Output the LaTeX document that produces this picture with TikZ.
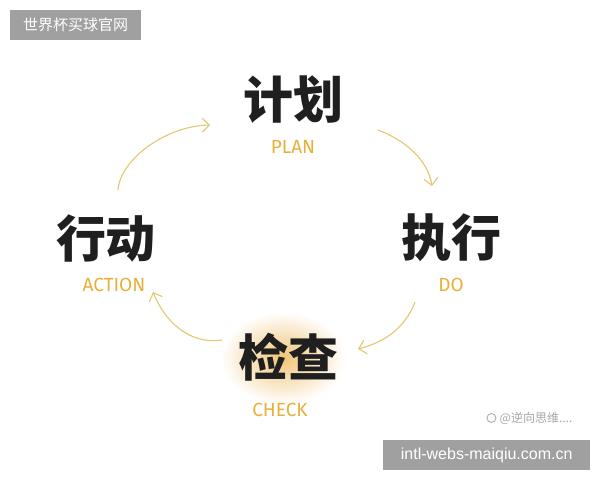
\documentclass[tikz,border=0pt]{standalone}
\usepackage{fontspec}
\usepackage{tikz}
\usetikzlibrary{arrows.meta, positioning, shapes.geometric}
\newfontfamily\cjk{Noto Sans CJK SC}
\newfontfamily\urlfont{Liberation Sans}
\newfontfamily\capsfont{Fira Sans}
\definecolor{markgray}{RGB}{160,160,160}
\definecolor{pengold}{RGB}{232,176,58}
\definecolor{arrowgold}{RGB}{226,200,110}
\definecolor{glow}{RGB}{240,196,120}

\begin{document}
\begin{tikzpicture}[
    x=1pt, y=-1pt,
    node distance=14pt,
    stage/.style={inner sep=0pt, font=\cjk\bfseries\fontsize{50}{50}\selectfont, text=black!88},
    tag/.style={inner sep=0pt, font=\capsfont\fontsize{19}{19}\selectfont, text=pengold},
    flow/.style={draw=arrowgold, line width=1.1pt, -{Straight Barb[length=7pt, width=14pt]}},
    banner/.style={fill=markgray, text=white, inner sep=0pt, anchor=north west}
]
    \useasboundingbox[fill=white] (0,0) rectangle (600,480);

    % watermark boxes
    \node[banner, minimum width=131pt, minimum height=30pt, font=\cjk\fontsize{15}{15}\selectfont] (site) at (10,10) {世界杯买球官网};
    \node[banner, minimum width=207pt, minimum height=30pt, font=\urlfont\fontsize{16}{16}\selectfont] (url) at (383,440) {intl-webs-maiqiu.com.cn};
    \node[inner sep=0pt, text=black!35, font=\cjk\fontsize{12}{12}\selectfont] (author) at (536,418) {@逆向思维....};
    \node[circle, draw=black!30, line width=1pt, minimum size=9pt, inner sep=0pt, left=3pt of author] (logo) {};

    % glow behind check
    \shade[inner color=glow, outer color=white] (283,358) ellipse [x radius=62, y radius=46];

    % stages
    \node[stage] (plan) at (293,100) {计划};
    \node[tag, below=16pt of plan] (planlbl) {PLAN};
    \node[stage] (do) at (451,238) {执行};
    \node[tag, below=16pt of do] (dolbl) {DO};
    \node[stage] (check) at (288,357) {检查};
    \node[tag, below=22pt of check, xshift=-8pt] (checklbl) {CHECK};
    \node[stage] (act) at (106,238) {行动};
    \node[tag, below=16pt of act, xshift=8pt] (actlbl) {ACTION};

    % cycle arrows
    \coordinate (a1s) at (118,190);
    \coordinate (a1e) at (210,125);
    \coordinate (a2s) at (378,130);
    \coordinate (a2e) at (432,186);
    \coordinate (a3s) at (415,302);
    \coordinate (a3e) at (358,349);
    \coordinate (a4s) at (222,340);
    \coordinate (a4e) at (153,292);
    \draw[flow] (a1s) .. controls (120,160) and (165,126) .. (a1e);
    \draw[flow] (a2s) .. controls (405,140) and (428,160) .. (a2e);
    \draw[flow] (a3s) .. controls (405,328) and (385,342) .. (a3e);
    \draw[flow] (a4s) .. controls (190,345) and (165,322) .. (a4e);

\end{tikzpicture}
\end{document}
